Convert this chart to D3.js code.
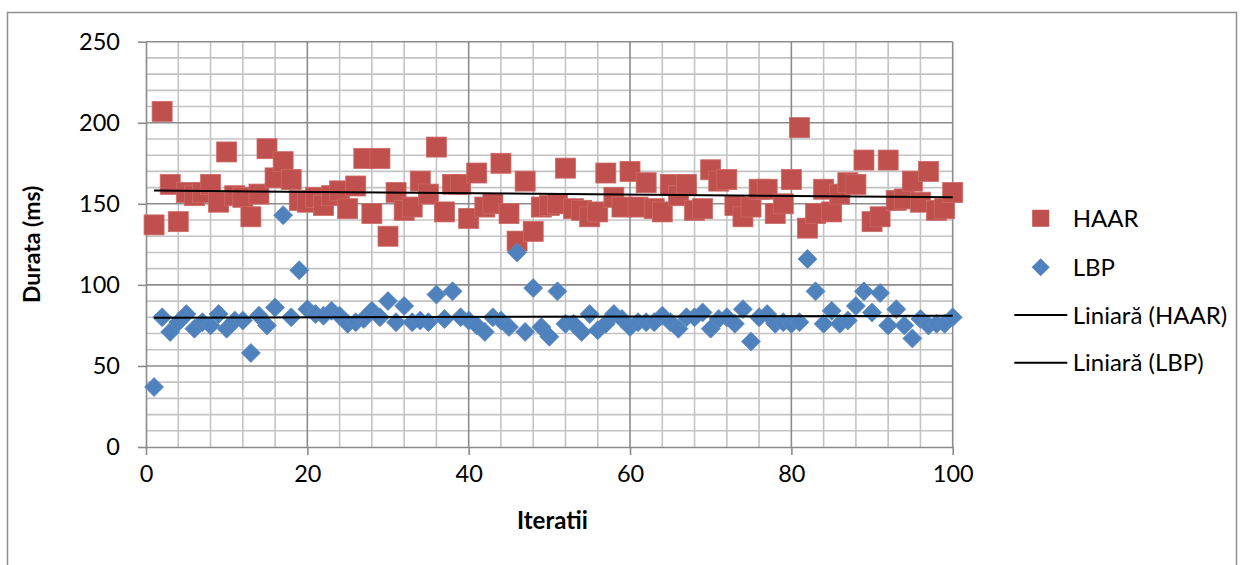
<!DOCTYPE html>
<html>
<head>
<meta charset="utf-8">
<script src="https://cdn.jsdelivr.net/npm/d3@7"></script>
<style>
  body { margin: 0; background: #fff; }
  svg { display: block; font-family: Lato, "Liberation Sans", sans-serif; }
</style>
</head>
<body>
<div id="chart"></div>
<script>
// x values: iteration number 1..100
const iterations = d3.range(1, 101);

const haar = [
  137, 207, 162, 139, 157, 155, 157, 162, 151, 182,
  155, 154, 142, 156, 184, 166, 176, 165, 152, 151,
  154, 149, 155, 158, 147, 161, 178, 144, 178, 130,
  157, 146, 148, 164, 156, 185, 145, 162, 162, 141,
  169, 148, 150, 175, 144, 127, 164, 133, 148, 149,
  150, 172, 147, 146, 142, 145, 169, 154, 148, 170,
  148, 163, 147, 145, 162, 155, 162, 146, 147, 171,
  164, 165, 149, 142, 148, 159, 159, 144, 150, 165,
  197, 135, 144, 159, 145, 156, 163, 162, 177, 139,
  142, 177, 152, 153, 164, 151, 170, 146, 147, 157
];

const lbp = [
  37, 80, 71, 77, 82, 73, 77, 75, 82, 73,
  78, 78, 58, 81, 75, 86, 143, 80, 109, 85,
  82, 81, 84, 81, 76, 77, 79, 84, 80, 90,
  77, 87, 77, 78, 77, 94, 79, 96, 80, 78,
  75, 71, 80, 78, 74, 120, 71, 98, 74, 68,
  96, 76, 76, 71, 82, 72, 76, 82, 79, 74,
  77, 77, 77, 81, 77, 73, 80, 80, 83, 73,
  79, 80, 76, 85, 65, 80, 82, 76, 77, 76,
  77, 116, 96, 76, 84, 76, 78, 87, 96, 83,
  95, 75, 85, 75, 67, 79, 75, 76, 76, 80
];

const xTicks = [0, 20, 40, 60, 80, 100];
const yTicks = [0, 50, 100, 150, 200, 250];
const legendLabels = ["HAAR", "LBP", "Liniară (HAAR)", "Liniară (LBP)"];

const W = 1244, H = 565;
const margin = { top: 41.7, right: 291.3, bottom: 118, left: 146 };
const width = W - margin.left - margin.right,
      height = H - margin.top - margin.bottom;

const svg = d3.select("#chart")
  .append("svg")
    .attr("width", W)
    .attr("height", H);

// outer chart frame (bottom edge falls outside the picture)
svg.append("rect")
  .attr("x", 7.5).attr("y", 12.5)
  .attr("width", 1229).attr("height", 570)
  .attr("fill", "none")
  .attr("stroke", "#8f8f8f")
  .attr("stroke-width", 1.5);

const g = svg.append("g")
  .attr("transform", `translate(${margin.left},${margin.top})`);

const x = d3.scaleLinear().domain([0, 100]).range([0, width]);
const y = d3.scaleLinear().domain([0, 250]).range([height, 0]);

// minor gridlines
g.append("g")
  .selectAll("line")
  .data(d3.range(4, 100, 4).filter(d => d % 20 !== 0))
  .join("line")
    .attr("x1", d => x(d)).attr("x2", d => x(d))
    .attr("y1", 0).attr("y2", height)
    .attr("stroke", "#c4c4c4").attr("stroke-width", 1.6);

g.append("g")
  .selectAll("line")
  .data(d3.range(10, 250, 10).filter(d => d % 50 !== 0))
  .join("line")
    .attr("x1", 0).attr("x2", width)
    .attr("y1", d => y(d)).attr("y2", d => y(d))
    .attr("stroke", "#c4c4c4").attr("stroke-width", 1.6);

// major gridlines
g.append("g")
  .selectAll("line")
  .data(xTicks.slice(1))
  .join("line")
    .attr("x1", d => x(d)).attr("x2", d => x(d))
    .attr("y1", 0).attr("y2", height)
    .attr("stroke", "#8c8c8c").attr("stroke-width", 1.6);

g.append("g")
  .selectAll("line")
  .data(yTicks.slice(1))
  .join("line")
    .attr("x1", 0).attr("x2", width)
    .attr("y1", d => y(d)).attr("y2", d => y(d))
    .attr("stroke", "#8c8c8c").attr("stroke-width", 1.6);

// axes
const xAxis = g.append("g")
  .attr("transform", `translate(0,${height})`)
  .call(d3.axisBottom(x).tickValues(xTicks).tickSize(8).tickPadding(10).tickSizeOuter(0));
const yAxis = g.append("g")
  .call(d3.axisLeft(y).tickValues(yTicks).tickSize(8).tickPadding(18).tickSizeOuter(0));

[xAxis, yAxis].forEach(a => {
  a.selectAll("line, path").attr("stroke", "#8c8c8c").attr("stroke-width", 1.6);
  a.selectAll("text").attr("fill", "#000").style("font-size", "23.5px")
    .style("font-family", "Lato, 'Liberation Sans', sans-serif");
});

// HAAR squares
const sq = 20;
g.append("g")
  .selectAll("rect")
  .data(haar)
  .join("rect")
    .attr("x", (d, i) => x(iterations[i]) - sq / 2)
    .attr("y", d => y(d) - sq / 2)
    .attr("width", sq).attr("height", sq)
    .attr("fill", "#c0504d")
    .attr("stroke", "#cd6a67").attr("stroke-width", 0.8);

// LBP diamonds
const dm = 9.5;
g.append("g")
  .selectAll("path")
  .data(lbp)
  .join("path")
    .attr("transform", (d, i) => `translate(${x(iterations[i])},${y(d)})`)
    .attr("d", `M0,${-dm}L${dm},0L0,${dm}L${-dm},0Z`)
    .attr("fill", "#4f81bd")
    .attr("stroke", "#5b8ac2").attr("stroke-width", 0.8);

// linear trendlines (least squares)
function fit(vals) {
  const xs = iterations;
  const mx = d3.mean(xs), my = d3.mean(vals);
  const b = d3.sum(xs, (v, i) => (v - mx) * (vals[i] - my)) / d3.sum(xs, v => (v - mx) ** 2);
  return [b, my - b * mx];
}
[haar, lbp].forEach(vals => {
  const [b, a] = fit(vals);
  const x0 = iterations[0], x1 = iterations[iterations.length - 1];
  g.append("line")
    .attr("x1", x(x0)).attr("y1", y(a + b * x0))
    .attr("x2", x(x1)).attr("y2", y(a + b * x1))
    .attr("stroke", "#000").attr("stroke-width", 2);
});

// axis titles
svg.append("text")
  .attr("x", margin.left + width / 2 + 3)
  .attr("y", 529)
  .attr("text-anchor", "middle")
  .style("font-size", "24px").style("font-weight", "bold")
  .text("Iteratii");

svg.append("text")
  .attr("transform", `translate(40, ${margin.top + height / 2}) rotate(-90)`)
  .attr("text-anchor", "middle")
  .style("font-size", "23px").style("font-weight", "bold")
  .text("Durata (ms)");

// legend
const legend = svg.append("g");
const rowsY = [218.3, 267.3, 315, 362.7];
legendLabels.forEach((label, i) => {
  const cy = rowsY[i];
  if (i === 0) {
    legend.append("rect")
      .attr("x", 1040.7 - 8.5).attr("y", cy - 8.5)
      .attr("width", 17).attr("height", 17)
      .attr("fill", "#c0504d");
  } else if (i === 1) {
    legend.append("path")
      .attr("transform", `translate(1040.7,${cy})`)
      .attr("d", "M0,-9L9,0L0,9L-9,0Z")
      .attr("fill", "#4f81bd");
  } else {
    legend.append("line")
      .attr("x1", 1014.3).attr("x2", 1067.3)
      .attr("y1", cy).attr("y2", cy)
      .attr("stroke", "#000").attr("stroke-width", 2);
  }
  legend.append("text")
    .attr("x", 1072.7)
    .attr("y", cy + 8.5)
    .style("font-size", "24px")
    .text(label);
});
</script>
</body>
</html>
